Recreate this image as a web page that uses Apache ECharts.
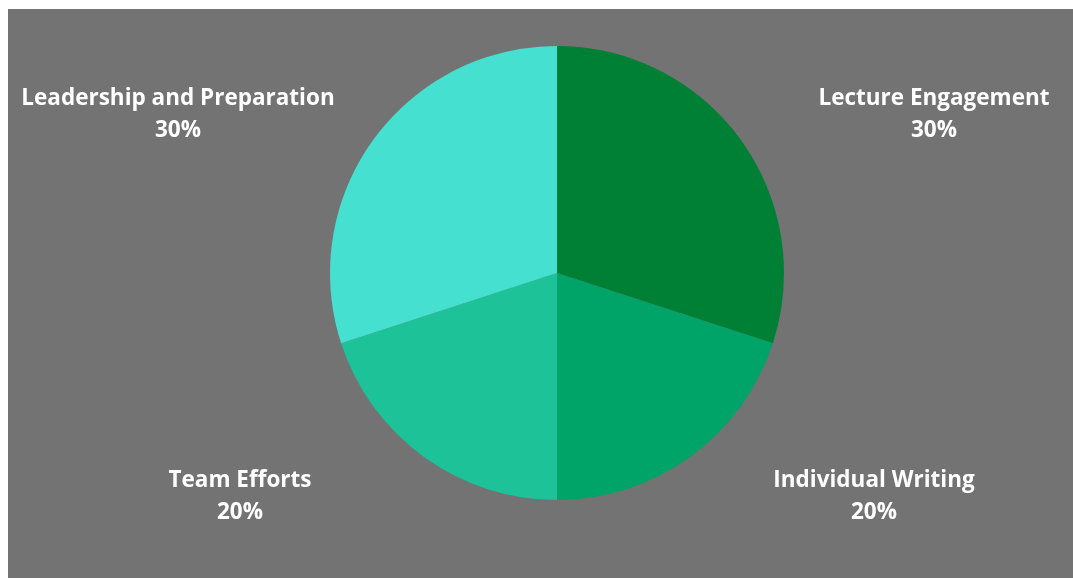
<!DOCTYPE html>
<html>
<head>
<meta charset="utf-8">
<script src="https://cdn.jsdelivr.net/npm/echarts@6/dist/echarts.min.js"></script>
<style>
html,body{margin:0;padding:0;background:#ffffff;width:1073px;height:578px;overflow:hidden;}
#chart{position:absolute;left:8px;top:9px;width:1065px;height:569px;background:#737373;}
</style>
</head>
<body>
<div id="chart"></div>
<script>
const categories = ["Lecture Engagement", "Individual Writing", "Team Efforts", "Leadership and Preparation"];
const values = [30, 20, 20, 30];
const colors = ["#008035", "#00a368", "#1dc298", "#45e0cf"];
// label anchor points (chart pixel coords)
const labelAnchors = [[926, 106], [866, 488], [232, 488], [170, 106]];

const chart = echarts.init(document.getElementById('chart'));
chart.setOption({
  backgroundColor: '#737373',
  animation: false,
  series: [{
    type: 'pie',
    center: [549, 264],
    radius: 227,
    startAngle: 90,
    clockwise: true,
    data: categories.map((c, i) => ({ name: c, value: values[i], itemStyle: { color: colors[i] } })),
    label: {
      show: true,
      position: 'outside',
      formatter: '{b}\n{d}%',
      color: '#ffffff',
      fontFamily: 'Open Sans',
      fontWeight: 'bold',
      fontSize: 22.5,
      lineHeight: 32,
      align: 'center',
      overflow: 'none',
      width: 400
    },
    labelLine: { show: false },
    labelLayout: function (p) {
      const a = labelAnchors[p.dataIndex];
      return { x: a[0], y: a[1], align: 'center', verticalAlign: 'middle' };
    },
    emphasis: { disabled: true }
  }]
});
</script>
</body>
</html>
